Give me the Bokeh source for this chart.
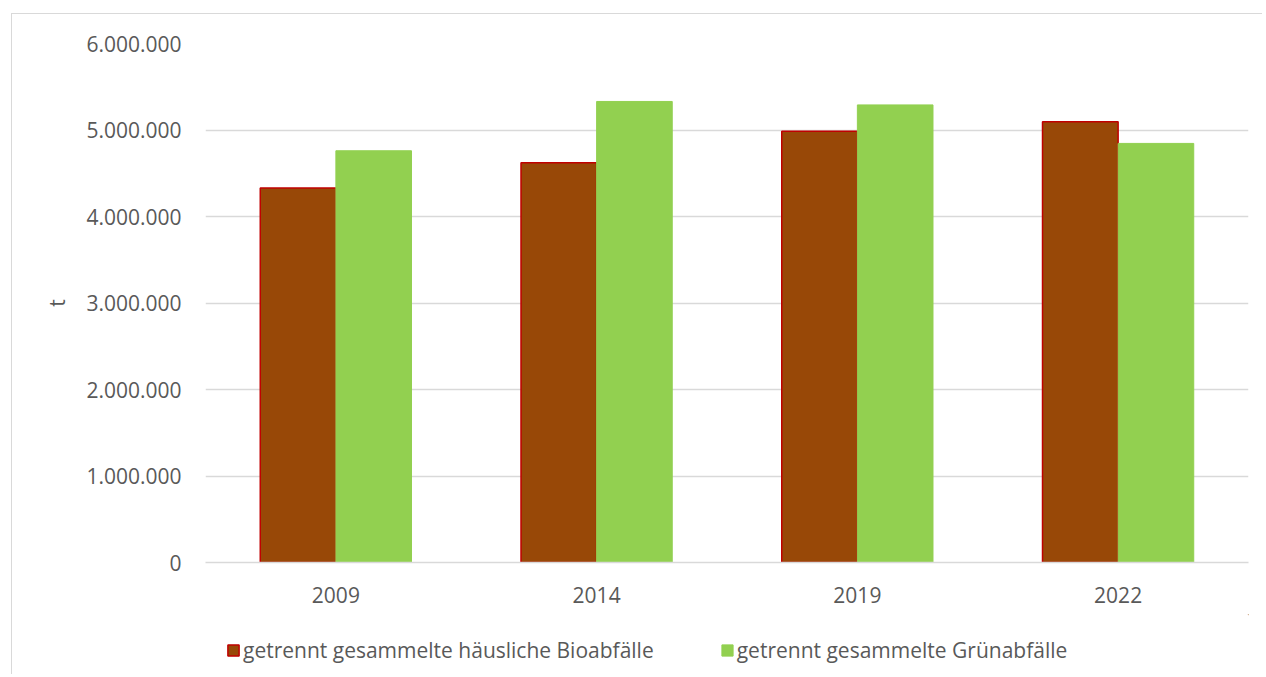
from bokeh.plotting import figure
from bokeh.layouts import column
from bokeh.models import (FactorRange, Range1d, ColumnDataSource, Legend, LegendItem,
                          CustomJSTickFormatter, FixedTicker)
from bokeh.transform import dodge
from bokeh.embed import file_html
from bokeh.resources import INLINE

years = ["2009", "2014", "2019", "2022"]
bio = [4330000, 4620000, 4985000, 5095000]
gruen = [4760000, 5330000, 5290000, 4845000]
series_names = ["getrennt gesammelte häusliche Bioabfälle", "getrennt gesammelte Grünabfälle"]
y_ticks = [0, 1000000, 2000000, 3000000, 4000000, 5000000, 6000000]

src = ColumnDataSource(dict(year=years, bio=bio, gruen=gruen))

FONT = "Open Sans"
TXT = "#595959"
BIO_FILL, BIO_LINE = "#984807", "#C00000"
GR_FILL = "#92D050"

p = figure(x_range=FactorRange(*years), y_range=Range1d(0, 6000000),
           width=1250, height=600, output_backend="svg", toolbar_location=None,
           min_border_left=193, min_border_top=29, min_border_right=14, min_border_bottom=52)
p.outline_line_color = None
p.x_range.range_padding = 0.0

p.vbar(x=dodge("year", -0.145, range=p.x_range), top="bio", width=0.29, source=src,
       fill_color=BIO_FILL, line_color=BIO_LINE, line_width=1.5)
p.vbar(x=dodge("year", 0.145, range=p.x_range), top="gruen", width=0.29, source=src,
       fill_color=GR_FILL, line_color=GR_FILL, line_width=1)

p.xgrid.grid_line_color = None
p.ygrid.grid_line_color = "#d9d9d9"
p.ygrid.grid_line_width = 1.5
p.yaxis.ticker = FixedTicker(ticks=y_ticks)
p.yaxis.formatter = CustomJSTickFormatter(code="return Math.round(tick).toString().replace(/\\B(?=(\\d{3})+(?!\\d))/g, '.');")
p.yaxis.axis_line_color = None
p.yaxis.major_tick_line_color = None
p.yaxis.minor_tick_line_color = None
p.yaxis.major_label_standoff = 18
p.yaxis.axis_label = "t"
p.yaxis.axis_label_standoff = 12
p.yaxis.axis_label_text_font_style = "normal"

p.xaxis.axis_line_color = "#d9d9d9"
p.xaxis.axis_line_width = 1.5
p.xaxis.major_tick_line_color = None
p.xaxis.minor_tick_line_color = None
p.xaxis.major_label_standoff = 18

for ax in (p.xaxis[0], p.yaxis[0]):
    ax.major_label_text_font = FONT
    ax.major_label_text_font_size = "21px"
    ax.major_label_text_color = TXT
    ax.axis_label_text_font = FONT
    ax.axis_label_text_font_size = "21px"
    ax.axis_label_text_color = TXT

# legend strip below the chart (swatch renderers sit outside the strip's visible range)
lf = figure(width=1250, height=60, output_backend="svg", toolbar_location=None,
            x_axis_type=None, y_axis_type=None, x_range=Range1d(0, 1), y_range=Range1d(0, 1),
            min_border=0)
lf.outline_line_color = None
swatch = ColumnDataSource(dict(x=[5], top=[5]))
l1 = lf.vbar(x="x", top="top", bottom=4, width=0.1, source=swatch,
             fill_color=BIO_FILL, line_color=BIO_LINE, line_width=1.5)
l2 = lf.vbar(x="x", top="top", bottom=4, width=0.1, source=swatch,
             fill_color=GR_FILL, line_color=GR_FILL, line_width=1)
legend = Legend(items=[LegendItem(label=series_names[0], renderers=[l1]),
                       LegendItem(label=series_names[1], renderers=[l2])],
                orientation="horizontal", location=(21, 10),
                label_text_font=FONT, label_text_font_size="21px", label_text_color=TXT,
                glyph_width=14, glyph_height=14, spacing=66, label_standoff=3,
                border_line_color=None, background_fill_alpha=0, margin=0, padding=0)
lf.add_layout(legend, "center")

layout = column(p, lf, spacing=0)
layout.styles = {"border-left": "1px solid #d9d9d9", "border-top": "1px solid #d9d9d9",
                 "margin-left": "11px", "margin-top": "13px"}

open("out.html", "w").write(file_html(layout, INLINE))
